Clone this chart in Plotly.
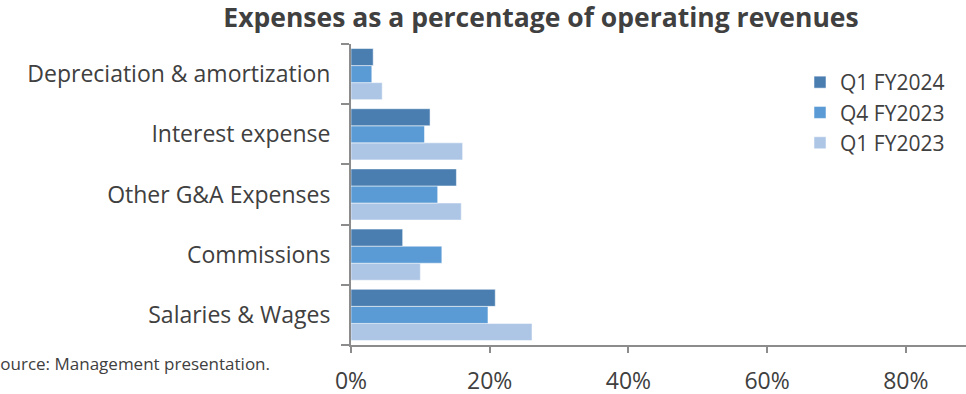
import plotly.graph_objects as go

categories = ["Salaries & Wages", "Commissions", "Other G&A Expenses",
              "Interest expense", "Depreciation & amortization"]
q1_fy2023 = [26.1, 10.0, 15.9, 16.1, 4.5]
q4_fy2023 = [19.75, 13.1, 12.5, 10.6, 3.0]
q1_fy2024 = [20.8, 7.45, 15.2, 11.4, 3.2]
x_ticks = [0, 20, 40, 60, 80]
x_tick_labels = ["0%", "20%", "40%", "60%", "80%"]

W, H = 966, 394
ML, MR, MT, MB = 351, 0, 44, 49

fig = go.Figure()
for name, vals, col in [("Q1 FY2023", q1_fy2023, "#adc6e6"),
                        ("Q4 FY2023", q4_fy2023, "#5b9bd5"),
                        ("Q1 FY2024", q1_fy2024, "#4a7eb0")]:
    fig.add_trace(go.Bar(y=categories, x=vals, name=name, orientation="h",
                         marker=dict(color=col, line=dict(color="rgba(255,255,255,0.5)", width=1))))

font = "Open Sans, Noto Sans, sans-serif"
fig.update_layout(
    width=W, height=H,
    margin=dict(l=ML, r=MR, t=MT, b=MB, autoexpand=False),
    barmode="group", bargap=0.15, bargroupgap=0,
    plot_bgcolor="white", paper_bgcolor="white",
    title=dict(text="<b>Expenses as a percentage of operating revenues</b>",
               x=541 / W, xanchor="center", y=1 - 18 / H, yanchor="middle",
               font=dict(family=font, size=26.5, color="#404040")),
    legend=dict(traceorder="reversed", x=(800 - ML) / (W - ML), xanchor="left",
                y=1 - (62 - MT) / (H - MT - MB), yanchor="top",
                font=dict(family=font, size=21, color="#404040"),
                tracegroupgap=0, itemwidth=30, bgcolor="rgba(0,0,0,0)"),
    showlegend=True,
)
fig.update_xaxes(range=[0, (W - ML) / 138.7 * 20], tickvals=x_ticks, ticktext=x_tick_labels,
                 showgrid=False, zeroline=False, showline=True, linecolor="#8c8c8c", linewidth=1.5,
                 ticks="outside", ticklen=6, tickcolor="#8c8c8c", tickwidth=1.5,
                 tickfont=dict(family=font, size=23, color="#404040"), ticklabelstandoff=9)
fig.update_yaxes(showgrid=False, zeroline=False, showline=True, linecolor="#8c8c8c", linewidth=2,
                 ticks="outside", ticklen=8, tickcolor="#8c8c8c", tickwidth=1.5, tickson="boundaries",
                 tickfont=dict(family=font, size=23, color="#404040"), ticklabelstandoff=14)
fig.add_annotation(text="Source: Management presentation.", xref="paper", yref="paper",
                   x=(272 - ML) / (W - ML - MR), xanchor="right",
                   y=1 - (363 - MT) / (H - MT - MB), yanchor="middle", showarrow=False,
                   font=dict(family=font, size=17, color="#404040"))
fig.write_html("out.html", config={"displayModeBar": False},
               post_script="document.body.style.margin='0';document.body.style.overflow='hidden';")
